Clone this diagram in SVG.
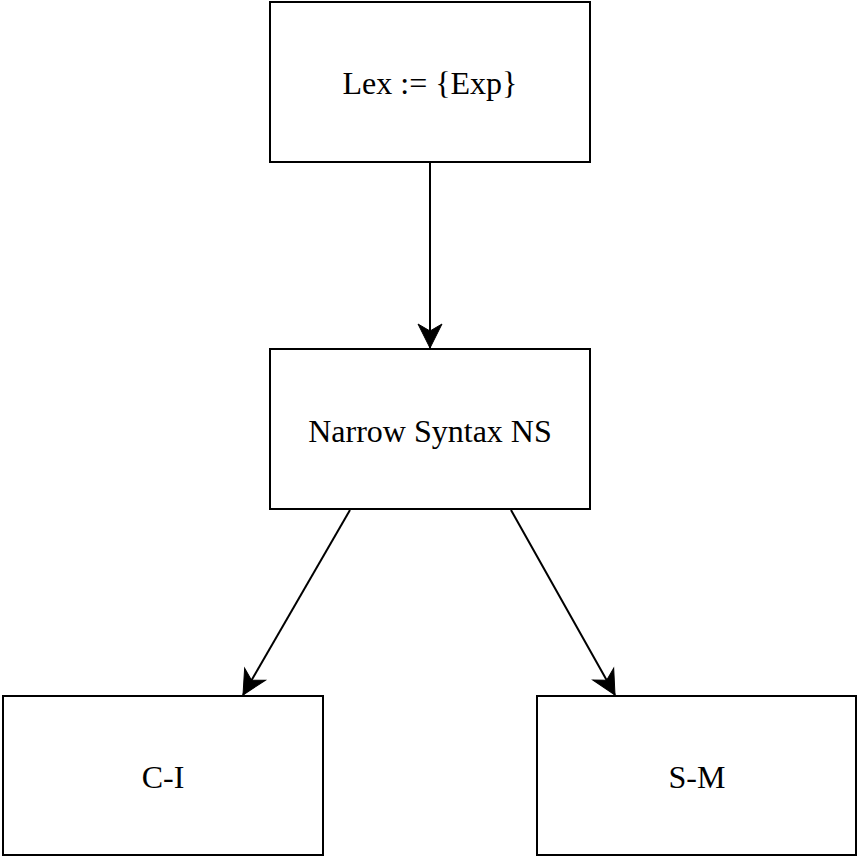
<svg xmlns="http://www.w3.org/2000/svg" width="858" height="858" viewBox="0 0 858 858">
  <style>
    .box { fill: #ffffff; stroke: #000000; stroke-width: 2; }
    .lbl { font-family: "Liberation Serif", "Times New Roman", serif; font-size: 32px; fill: #000000; text-anchor: middle; }
    .edge { stroke: #000000; stroke-width: 2; fill: none; marker-end: url(#arrow); }
  </style>
  <defs>
    <marker id="arrow" markerUnits="userSpaceOnUse" markerWidth="26" markerHeight="26" refX="24" refY="12" orient="auto" overflow="visible">
      <path d="M0,0 L24,12 L0,24 L7,12 Z" fill="#000000" stroke="#000000" stroke-width="1"/>
    </marker>
  </defs>
  <rect width="858" height="858" fill="#ffffff"/>
  <g id="connectors">
    <line class="edge" x1="430" y1="162" x2="430" y2="348"/>
    <line class="edge" x1="350" y1="510" x2="243" y2="695"/>
    <line class="edge" x1="511" y1="510" x2="615" y2="695"/>
  </g>
  <g id="lex">
    <rect class="box" x="270" y="2" width="320" height="160"/>
    <text class="lbl" x="430" y="94">Lex := {Exp}</text>
  </g>
  <g id="ns">
    <rect class="box" x="270" y="349" width="320" height="160"/>
    <text class="lbl" x="430" y="442">Narrow Syntax NS</text>
  </g>
  <g id="ci">
    <rect class="box" x="3" y="696" width="320" height="159"/>
    <text class="lbl" x="163" y="788">C-I</text>
  </g>
  <g id="sm">
    <rect class="box" x="537" y="696" width="319" height="159"/>
    <text class="lbl" x="697" y="788">S-M</text>
  </g>
</svg>
